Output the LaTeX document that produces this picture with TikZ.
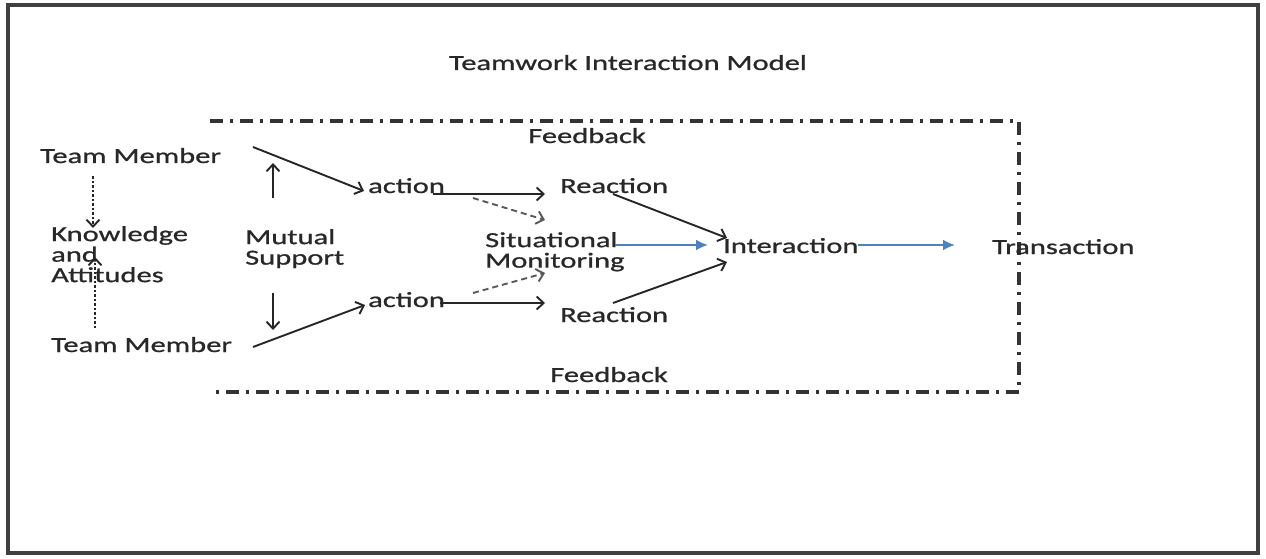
\documentclass[tikz,border=0pt]{standalone}
\usepackage{fontspec}
\setmainfont[FakeStretch=1.42,FakeBold=0.9]{Carlito}
\usetikzlibrary{arrows.meta,calc}
\definecolor{txt}{RGB}{40,40,40}
\definecolor{offblue}{RGB}{79,129,189}
\begin{document}
\begin{tikzpicture}[x=1pt,y=-1pt,
  lbl/.style={inner sep=0pt,text=txt,font=\fontsize{21.5}{20.5}\selectfont},
  mlbl/.style={lbl,align=left,anchor=north west},
  arr/.style={draw=black!85,line width=1.9pt,-{Straight Barb[length=7pt,width=13pt,line width=1.9pt]}},
  dotarr/.style={arr,dash pattern=on 2.5pt off 2pt},
  dasharr/.style={arr,draw=black!65,dash pattern=on 6pt off 4pt},
  bluearr/.style={draw=offblue,line width=2.8pt,-{Latex[length=12pt,width=11pt]}},
  frame/.style={draw=black!75,line width=3.2pt},
  fb/.style={draw=black!80,line width=3.4pt,dash pattern=on 13pt off 7pt on 3pt off 7pt}
]
\useasboundingbox (0,0) rectangle (1266,559);
\draw[frame] (8,5) rectangle (1258,553);

% feedback loop (dash-dot, open on the left)
\draw[fb] (210,121) -- (1019,121) -- (1019,392) -- (210,392);

% texts
\node[lbl,anchor=base] (title) at (628,70) {Teamwork Interaction Model};
\node[lbl,anchor=base] (fbt) at (587,143) {Feedback};
\node[lbl,anchor=base] (fbb) at (609,382) {Feedback};
\node[lbl,anchor=base west] (tm1) at (40,163) {Team Member};
\node[lbl,anchor=base west] (tm2) at (51,352) {Team Member};
\node[mlbl] (ka) at (51,226) {Knowledge\\and\\Attitudes};
\node[mlbl] (ms) at (245,229) {Mutual\\Support};
\node[lbl,anchor=base west] (act1) at (368,193) {action};
\node[lbl,anchor=base west] (act2) at (368,307) {action};
\node[lbl,anchor=base west] (re1) at (560,193) {Reaction};
\node[lbl,anchor=base west] (re2) at (560,322) {Reaction};
\node[mlbl] (sm) at (485,232) {Situational\\Monitoring};
\node[lbl,anchor=base west] (inter) at (723,253) {Interaction};
\node[lbl,anchor=base west] (trans) at (992,254) {Transaction};

% connectors
\draw[arr] ($(tm1.base west)+(213,-16)$) -- ($(act1.base west)+(-4,-2)$);
\draw[arr] ($(tm2.base west)+(202,-5)$) -- ($(act2.base west)+(-3,-2)$);
\draw[arr] ($(ms.north west)+(28,-31)$) -- ($(ms.north west)+(28,-66)$);
\draw[arr] ($(ms.north west)+(28,64)$) -- ($(ms.north west)+(28,101)$);
\draw[dotarr] ($(tm1.base west)+(53,13)$) -- ($(ka.north west)+(42,2)$);
\draw[dotarr] ($(tm2.base west)+(44,-24)$) -- ($(ka.north west)+(44,31)$);
\draw[arr] ($(act1.base west)+(65,1)$) -- ($(re1.base west)+(-15,1)$);
\draw[dasharr] ($(act1.base west)+(105,5)$) -- ($(sm.north west)+(60,-12)$);
\draw[arr] ($(act2.base west)+(72,-4)$) -- ($(re2.base west)+(-15,-19)$);
\draw[dasharr] ($(act2.base west)+(105,-14)$) -- ($(sm.north west)+(60,41)$);
\draw[arr] ($(re1.base west)+(53,1)$) -- ($(inter.base west)+(4,-15)$);
\draw[arr] ($(re2.base west)+(53,-19)$) -- ($(inter.base west)+(4,9)$);
\draw[bluearr] ($(sm.north west)+(130,13)$) -- ($(inter.base west)+(-15,-8)$);
\draw[bluearr] ($(inter.base west)+(135,-8)$) -- ($(trans.base west)+(-37,-9)$);
\end{tikzpicture}
\end{document}
